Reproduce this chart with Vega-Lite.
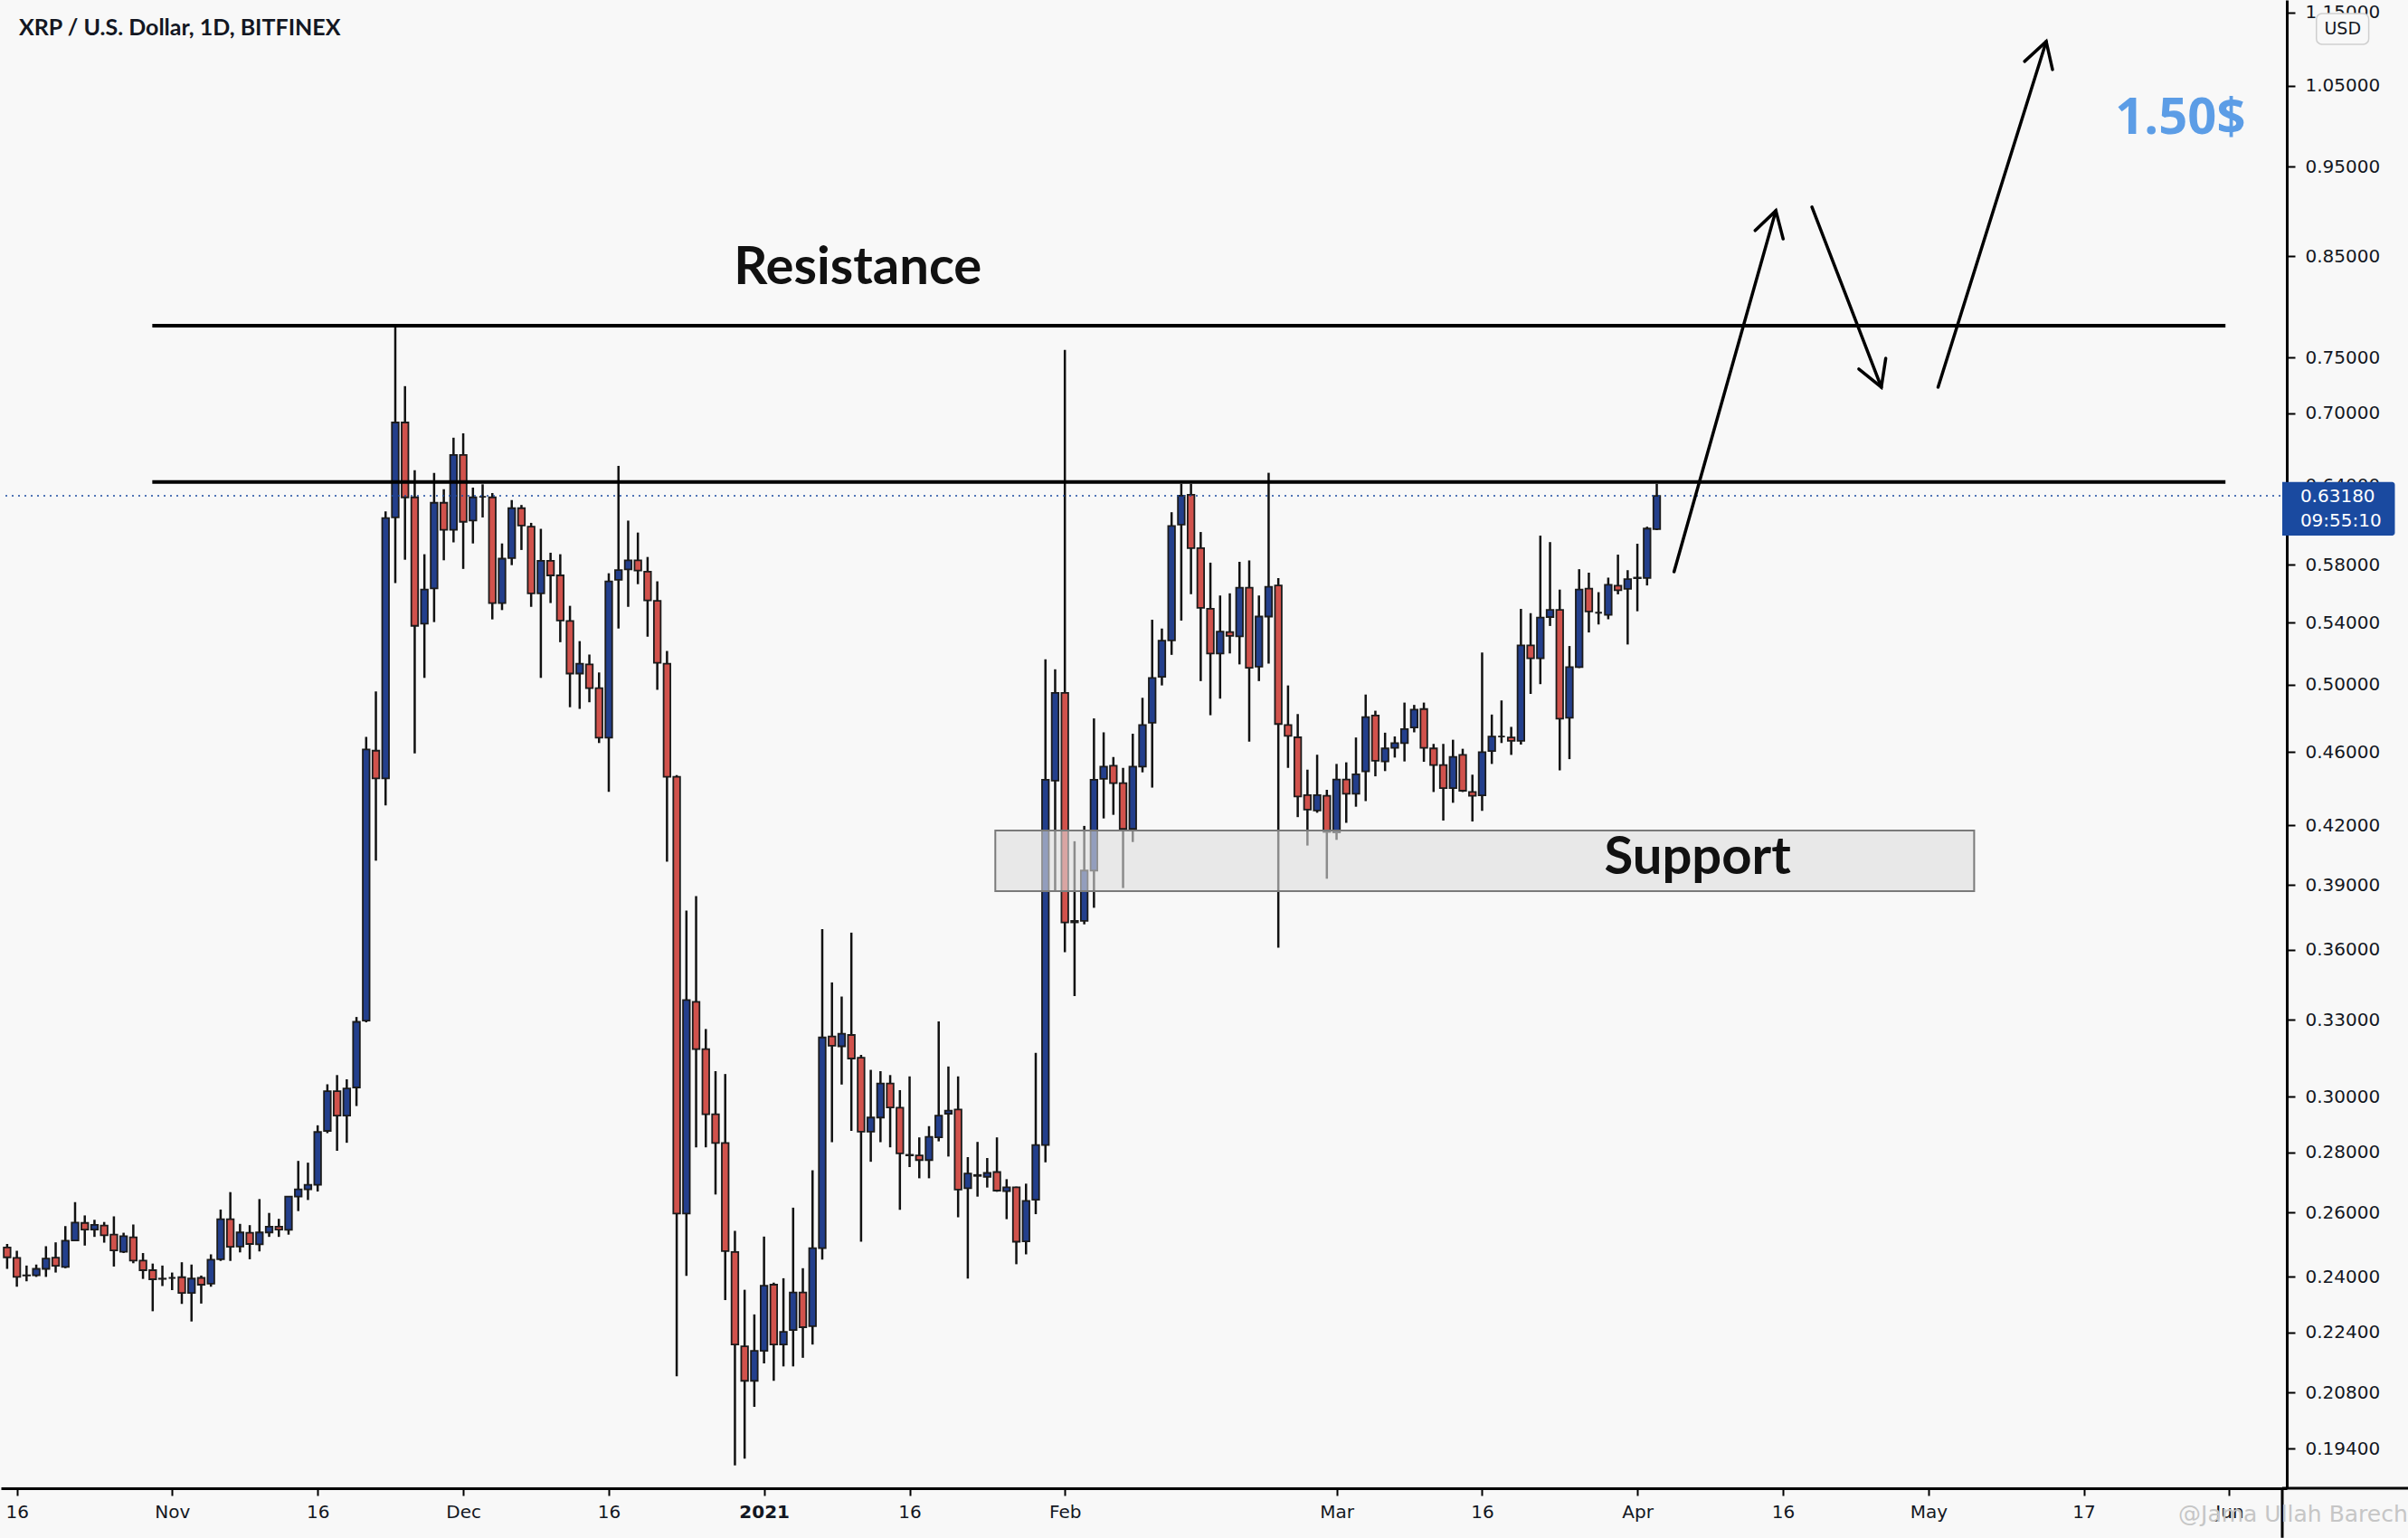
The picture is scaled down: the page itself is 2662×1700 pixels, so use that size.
{
  "$schema": "https://vega.github.io/schema/vega-lite/v6.json",
  "description": "XRP / U.S. Dollar daily candles with resistance, support and projected path",
  "width": 2527,
  "height": 1645,
  "padding": 0,
  "autosize": {"type": "pad"},
  "background": "#f8f8f8",
  "config": {"view": {"stroke": null}, "font": "DejaVu Sans"},
  "datasets": {
    "candles": [
      {"d": "2020-10-15", "o": 0.2489, "h": 0.2500, "l": 0.2424, "c": 0.2459},
      {"d": "2020-10-16", "o": 0.2457, "h": 0.2479, "l": 0.2371, "c": 0.2400},
      {"d": "2020-10-17", "o": 0.2404, "h": 0.2434, "l": 0.2387, "c": 0.2405},
      {"d": "2020-10-18", "o": 0.2405, "h": 0.2437, "l": 0.2400, "c": 0.2424},
      {"d": "2020-10-19", "o": 0.2424, "h": 0.2493, "l": 0.2400, "c": 0.2455},
      {"d": "2020-10-20", "o": 0.2458, "h": 0.2505, "l": 0.2413, "c": 0.2433},
      {"d": "2020-10-21", "o": 0.2430, "h": 0.2556, "l": 0.2426, "c": 0.2510},
      {"d": "2020-10-22", "o": 0.2511, "h": 0.2633, "l": 0.2509, "c": 0.2567},
      {"d": "2020-10-23", "o": 0.2566, "h": 0.2590, "l": 0.2495, "c": 0.2545},
      {"d": "2020-10-24", "o": 0.2545, "h": 0.2576, "l": 0.2522, "c": 0.2560},
      {"d": "2020-10-25", "o": 0.2558, "h": 0.2569, "l": 0.2504, "c": 0.2527},
      {"d": "2020-10-26", "o": 0.2529, "h": 0.2587, "l": 0.2431, "c": 0.2480},
      {"d": "2020-10-27", "o": 0.2476, "h": 0.2535, "l": 0.2472, "c": 0.2524},
      {"d": "2020-10-28", "o": 0.2521, "h": 0.2561, "l": 0.2441, "c": 0.2449},
      {"d": "2020-10-29", "o": 0.2449, "h": 0.2472, "l": 0.2394, "c": 0.2420},
      {"d": "2020-10-30", "o": 0.2420, "h": 0.2440, "l": 0.2300, "c": 0.2393},
      {"d": "2020-10-31", "o": 0.2395, "h": 0.2434, "l": 0.2373, "c": 0.2394},
      {"d": "2020-11-01", "o": 0.2397, "h": 0.2413, "l": 0.2361, "c": 0.2397},
      {"d": "2020-11-02", "o": 0.2399, "h": 0.2444, "l": 0.2321, "c": 0.2353},
      {"d": "2020-11-03", "o": 0.2353, "h": 0.2437, "l": 0.2271, "c": 0.2395},
      {"d": "2020-11-04", "o": 0.2397, "h": 0.2404, "l": 0.2322, "c": 0.2377},
      {"d": "2020-11-05", "o": 0.2380, "h": 0.2468, "l": 0.2371, "c": 0.2452},
      {"d": "2020-11-06", "o": 0.2453, "h": 0.2609, "l": 0.2448, "c": 0.2578},
      {"d": "2020-11-07", "o": 0.2578, "h": 0.2666, "l": 0.2448, "c": 0.2491},
      {"d": "2020-11-08", "o": 0.2492, "h": 0.2563, "l": 0.2474, "c": 0.2536},
      {"d": "2020-11-09", "o": 0.2535, "h": 0.2559, "l": 0.2453, "c": 0.2500},
      {"d": "2020-11-10", "o": 0.2499, "h": 0.2643, "l": 0.2477, "c": 0.2536},
      {"d": "2020-11-11", "o": 0.2536, "h": 0.2598, "l": 0.2522, "c": 0.2554},
      {"d": "2020-11-12", "o": 0.2554, "h": 0.2579, "l": 0.2522, "c": 0.2545},
      {"d": "2020-11-13", "o": 0.2544, "h": 0.2651, "l": 0.2529, "c": 0.2651},
      {"d": "2020-11-14", "o": 0.2651, "h": 0.2771, "l": 0.2604, "c": 0.2675},
      {"d": "2020-11-15", "o": 0.2675, "h": 0.2765, "l": 0.2640, "c": 0.2690},
      {"d": "2020-11-16", "o": 0.2690, "h": 0.2896, "l": 0.2668, "c": 0.2872},
      {"d": "2020-11-17", "o": 0.2876, "h": 0.3047, "l": 0.2868, "c": 0.3021},
      {"d": "2020-11-18", "o": 0.3021, "h": 0.3082, "l": 0.2806, "c": 0.2931},
      {"d": "2020-11-19", "o": 0.2931, "h": 0.3066, "l": 0.2834, "c": 0.3031},
      {"d": "2020-11-20", "o": 0.3035, "h": 0.3312, "l": 0.2966, "c": 0.3292},
      {"d": "2020-11-21", "o": 0.3297, "h": 0.4686, "l": 0.3290, "c": 0.4614},
      {"d": "2020-11-22", "o": 0.4607, "h": 0.4958, "l": 0.4020, "c": 0.4452},
      {"d": "2020-11-23", "o": 0.4452, "h": 0.6197, "l": 0.4305, "c": 0.6147},
      {"d": "2020-11-24", "o": 0.6151, "h": 0.7794, "l": 0.5671, "c": 0.6919},
      {"d": "2020-11-25", "o": 0.6919, "h": 0.7238, "l": 0.5837, "c": 0.6306},
      {"d": "2020-11-26", "o": 0.6306, "h": 0.6522, "l": 0.4592, "c": 0.5378},
      {"d": "2020-11-27", "o": 0.5392, "h": 0.5877, "l": 0.5042, "c": 0.5626},
      {"d": "2020-11-28", "o": 0.5633, "h": 0.6500, "l": 0.5403, "c": 0.6264},
      {"d": "2020-11-29", "o": 0.6264, "h": 0.6370, "l": 0.5833, "c": 0.6057},
      {"d": "2020-11-30", "o": 0.6057, "h": 0.6790, "l": 0.5964, "c": 0.6646},
      {"d": "2020-12-01", "o": 0.6646, "h": 0.6827, "l": 0.5771, "c": 0.6118},
      {"d": "2020-12-02", "o": 0.6127, "h": 0.6383, "l": 0.5956, "c": 0.6306},
      {"d": "2020-12-03", "o": 0.6311, "h": 0.6409, "l": 0.6151, "c": 0.6311},
      {"d": "2020-12-04", "o": 0.6306, "h": 0.6340, "l": 0.5421, "c": 0.5532},
      {"d": "2020-12-05", "o": 0.5532, "h": 0.5956, "l": 0.5484, "c": 0.5845},
      {"d": "2020-12-06", "o": 0.5849, "h": 0.6285, "l": 0.5798, "c": 0.6222},
      {"d": "2020-12-07", "o": 0.6222, "h": 0.6247, "l": 0.5908, "c": 0.6090},
      {"d": "2020-12-08", "o": 0.6081, "h": 0.6110, "l": 0.5506, "c": 0.5599},
      {"d": "2020-12-09", "o": 0.5599, "h": 0.6065, "l": 0.5042, "c": 0.5829},
      {"d": "2020-12-10", "o": 0.5829, "h": 0.5888, "l": 0.5532, "c": 0.5725},
      {"d": "2020-12-11", "o": 0.5725, "h": 0.5877, "l": 0.5270, "c": 0.5414},
      {"d": "2020-12-12", "o": 0.5410, "h": 0.5513, "l": 0.4862, "c": 0.5069},
      {"d": "2020-12-13", "o": 0.5069, "h": 0.5277, "l": 0.4852, "c": 0.5131},
      {"d": "2020-12-14", "o": 0.5127, "h": 0.5190, "l": 0.4892, "c": 0.4978},
      {"d": "2020-12-15", "o": 0.4978, "h": 0.5076, "l": 0.4651, "c": 0.4682},
      {"d": "2020-12-16", "o": 0.4682, "h": 0.5740, "l": 0.4378, "c": 0.5683},
      {"d": "2020-12-17", "o": 0.5694, "h": 0.6557, "l": 0.5360, "c": 0.5763},
      {"d": "2020-12-18", "o": 0.5767, "h": 0.6127, "l": 0.5506, "c": 0.5833},
      {"d": "2020-12-19", "o": 0.5833, "h": 0.6037, "l": 0.5663, "c": 0.5759},
      {"d": "2020-12-20", "o": 0.5752, "h": 0.5857, "l": 0.5306, "c": 0.5550},
      {"d": "2020-12-21", "o": 0.5547, "h": 0.5683, "l": 0.4968, "c": 0.5137},
      {"d": "2020-12-22", "o": 0.5131, "h": 0.5213, "l": 0.4015, "c": 0.4460},
      {"d": "2020-12-23", "o": 0.4460, "h": 0.4470, "l": 0.2122, "c": 0.2596},
      {"d": "2020-12-24", "o": 0.2596, "h": 0.3779, "l": 0.2403, "c": 0.3382},
      {"d": "2020-12-25", "o": 0.3375, "h": 0.3847, "l": 0.2818, "c": 0.3183},
      {"d": "2020-12-26", "o": 0.3183, "h": 0.3263, "l": 0.2818, "c": 0.2936},
      {"d": "2020-12-27", "o": 0.2936, "h": 0.3097, "l": 0.2658, "c": 0.2833},
      {"d": "2020-12-28", "o": 0.2833, "h": 0.3086, "l": 0.2332, "c": 0.2478},
      {"d": "2020-12-29", "o": 0.2475, "h": 0.2541, "l": 0.1900, "c": 0.2207},
      {"d": "2020-12-30", "o": 0.2202, "h": 0.2362, "l": 0.1916, "c": 0.2110},
      {"d": "2020-12-31", "o": 0.2110, "h": 0.2291, "l": 0.2043, "c": 0.2190},
      {"d": "2021-01-01", "o": 0.2190, "h": 0.2523, "l": 0.2156, "c": 0.2374},
      {"d": "2021-01-02", "o": 0.2377, "h": 0.2383, "l": 0.2110, "c": 0.2207},
      {"d": "2021-01-03", "o": 0.2207, "h": 0.2396, "l": 0.2148, "c": 0.2242},
      {"d": "2021-01-04", "o": 0.2247, "h": 0.2615, "l": 0.2148, "c": 0.2354},
      {"d": "2021-01-05", "o": 0.2354, "h": 0.2426, "l": 0.2171, "c": 0.2255},
      {"d": "2021-01-06", "o": 0.2258, "h": 0.2739, "l": 0.2207, "c": 0.2487},
      {"d": "2021-01-07", "o": 0.2487, "h": 0.3693, "l": 0.2452, "c": 0.3229},
      {"d": "2021-01-08", "o": 0.3233, "h": 0.3457, "l": 0.2836, "c": 0.3196},
      {"d": "2021-01-09", "o": 0.3194, "h": 0.3397, "l": 0.3046, "c": 0.3244},
      {"d": "2021-01-10", "o": 0.3239, "h": 0.3677, "l": 0.2876, "c": 0.3146},
      {"d": "2021-01-11", "o": 0.3149, "h": 0.3160, "l": 0.2507, "c": 0.2873},
      {"d": "2021-01-12", "o": 0.2873, "h": 0.3102, "l": 0.2768, "c": 0.2924},
      {"d": "2021-01-13", "o": 0.2924, "h": 0.3097, "l": 0.2836, "c": 0.3050},
      {"d": "2021-01-14", "o": 0.3050, "h": 0.3082, "l": 0.2818, "c": 0.2961},
      {"d": "2021-01-15", "o": 0.2960, "h": 0.3025, "l": 0.2608, "c": 0.2797},
      {"d": "2021-01-16", "o": 0.2792, "h": 0.3077, "l": 0.2750, "c": 0.2790},
      {"d": "2021-01-17", "o": 0.2790, "h": 0.2853, "l": 0.2712, "c": 0.2774},
      {"d": "2021-01-18", "o": 0.2774, "h": 0.2893, "l": 0.2712, "c": 0.2855},
      {"d": "2021-01-19", "o": 0.2853, "h": 0.3294, "l": 0.2839, "c": 0.2931},
      {"d": "2021-01-20", "o": 0.2938, "h": 0.3115, "l": 0.2786, "c": 0.2949},
      {"d": "2021-01-21", "o": 0.2953, "h": 0.3077, "l": 0.2584, "c": 0.2674},
      {"d": "2021-01-22", "o": 0.2679, "h": 0.2784, "l": 0.2395, "c": 0.2728},
      {"d": "2021-01-23", "o": 0.2723, "h": 0.2837, "l": 0.2651, "c": 0.2720},
      {"d": "2021-01-24", "o": 0.2717, "h": 0.2781, "l": 0.2681, "c": 0.2730},
      {"d": "2021-01-25", "o": 0.2733, "h": 0.2853, "l": 0.2667, "c": 0.2671},
      {"d": "2021-01-26", "o": 0.2669, "h": 0.2709, "l": 0.2578, "c": 0.2682},
      {"d": "2021-01-27", "o": 0.2682, "h": 0.2684, "l": 0.2438, "c": 0.2507},
      {"d": "2021-01-28", "o": 0.2508, "h": 0.2694, "l": 0.2468, "c": 0.2637},
      {"d": "2021-01-29", "o": 0.2641, "h": 0.3168, "l": 0.2594, "c": 0.2826},
      {"d": "2021-01-30", "o": 0.2826, "h": 0.5160, "l": 0.2766, "c": 0.4444},
      {"d": "2021-01-31", "o": 0.4439, "h": 0.5096, "l": 0.3869, "c": 0.4949},
      {"d": "2021-02-01", "o": 0.4949, "h": 0.7570, "l": 0.3589, "c": 0.3724},
      {"d": "2021-02-02", "o": 0.3724, "h": 0.4118, "l": 0.3399, "c": 0.3731},
      {"d": "2021-02-03", "o": 0.3731, "h": 0.4197, "l": 0.3715, "c": 0.3971},
      {"d": "2021-02-04", "o": 0.3971, "h": 0.4795, "l": 0.3792, "c": 0.4444},
      {"d": "2021-02-05", "o": 0.4449, "h": 0.4713, "l": 0.4236, "c": 0.4517},
      {"d": "2021-02-06", "o": 0.4522, "h": 0.4571, "l": 0.4255, "c": 0.4425},
      {"d": "2021-02-07", "o": 0.4425, "h": 0.4510, "l": 0.3886, "c": 0.4182},
      {"d": "2021-02-08", "o": 0.4182, "h": 0.4705, "l": 0.4114, "c": 0.4517},
      {"d": "2021-02-09", "o": 0.4517, "h": 0.4919, "l": 0.4485, "c": 0.4756},
      {"d": "2021-02-10", "o": 0.4769, "h": 0.5419, "l": 0.4401, "c": 0.5041},
      {"d": "2021-02-11", "o": 0.5049, "h": 0.5360, "l": 0.4995, "c": 0.5280},
      {"d": "2021-02-12", "o": 0.5282, "h": 0.6191, "l": 0.5188, "c": 0.6087},
      {"d": "2021-02-13", "o": 0.6097, "h": 0.6413, "l": 0.5413, "c": 0.6320},
      {"d": "2021-02-14", "o": 0.6327, "h": 0.6413, "l": 0.5593, "c": 0.5921},
      {"d": "2021-02-15", "o": 0.5921, "h": 0.6041, "l": 0.5022, "c": 0.5499},
      {"d": "2021-02-16", "o": 0.5493, "h": 0.5816, "l": 0.4814, "c": 0.5197},
      {"d": "2021-02-17", "o": 0.5197, "h": 0.5584, "l": 0.4914, "c": 0.5340},
      {"d": "2021-02-18", "o": 0.5337, "h": 0.5599, "l": 0.5197, "c": 0.5311},
      {"d": "2021-02-19", "o": 0.5308, "h": 0.5822, "l": 0.5127, "c": 0.5638},
      {"d": "2021-02-20", "o": 0.5638, "h": 0.5832, "l": 0.4659, "c": 0.5105},
      {"d": "2021-02-21", "o": 0.5113, "h": 0.5584, "l": 0.5022, "c": 0.5440},
      {"d": "2021-02-22", "o": 0.5440, "h": 0.6501, "l": 0.5132, "c": 0.5644},
      {"d": "2021-02-23", "o": 0.5654, "h": 0.5706, "l": 0.3609, "c": 0.4762},
      {"d": "2021-02-24", "o": 0.4756, "h": 0.4995, "l": 0.4510, "c": 0.4692},
      {"d": "2021-02-25", "o": 0.4684, "h": 0.4821, "l": 0.4243, "c": 0.4353},
      {"d": "2021-02-26", "o": 0.4360, "h": 0.4500, "l": 0.4096, "c": 0.4283},
      {"d": "2021-02-27", "o": 0.4278, "h": 0.4584, "l": 0.4266, "c": 0.4360},
      {"d": "2021-02-28", "o": 0.4357, "h": 0.4389, "l": 0.3931, "c": 0.4166},
      {"d": "2021-03-01", "o": 0.4163, "h": 0.4532, "l": 0.4125, "c": 0.4445},
      {"d": "2021-03-02", "o": 0.4445, "h": 0.4541, "l": 0.4213, "c": 0.4368},
      {"d": "2021-03-03", "o": 0.4368, "h": 0.4683, "l": 0.4298, "c": 0.4474},
      {"d": "2021-03-04", "o": 0.4490, "h": 0.4939, "l": 0.4328, "c": 0.4803},
      {"d": "2021-03-05", "o": 0.4812, "h": 0.4841, "l": 0.4463, "c": 0.4550},
      {"d": "2021-03-06", "o": 0.4546, "h": 0.4711, "l": 0.4492, "c": 0.4620},
      {"d": "2021-03-07", "o": 0.4623, "h": 0.4689, "l": 0.4568, "c": 0.4651},
      {"d": "2021-03-08", "o": 0.4651, "h": 0.4890, "l": 0.4546, "c": 0.4732},
      {"d": "2021-03-09", "o": 0.4741, "h": 0.4876, "l": 0.4713, "c": 0.4847},
      {"d": "2021-03-10", "o": 0.4851, "h": 0.4890, "l": 0.4544, "c": 0.4623},
      {"d": "2021-03-11", "o": 0.4620, "h": 0.4646, "l": 0.4377, "c": 0.4526},
      {"d": "2021-03-12", "o": 0.4526, "h": 0.4646, "l": 0.4225, "c": 0.4398},
      {"d": "2021-03-13", "o": 0.4398, "h": 0.4670, "l": 0.4319, "c": 0.4572},
      {"d": "2021-03-14", "o": 0.4583, "h": 0.4618, "l": 0.4377, "c": 0.4384},
      {"d": "2021-03-15", "o": 0.4377, "h": 0.4472, "l": 0.4220, "c": 0.4357},
      {"d": "2021-03-16", "o": 0.4359, "h": 0.5203, "l": 0.4276, "c": 0.4599},
      {"d": "2021-03-17", "o": 0.4605, "h": 0.4818, "l": 0.4532, "c": 0.4689},
      {"d": "2021-03-18", "o": 0.4689, "h": 0.4903, "l": 0.4651, "c": 0.4689},
      {"d": "2021-03-19", "o": 0.4683, "h": 0.4745, "l": 0.4583, "c": 0.4664},
      {"d": "2021-03-20", "o": 0.4664, "h": 0.5492, "l": 0.4642, "c": 0.5249},
      {"d": "2021-03-21", "o": 0.5249, "h": 0.5463, "l": 0.4943, "c": 0.5166},
      {"d": "2021-03-22", "o": 0.5166, "h": 0.6014, "l": 0.5003, "c": 0.5433},
      {"d": "2021-03-23", "o": 0.5437, "h": 0.5966, "l": 0.5377, "c": 0.5485},
      {"d": "2021-03-24", "o": 0.5485, "h": 0.5625, "l": 0.4496, "c": 0.4793},
      {"d": "2021-03-25", "o": 0.4799, "h": 0.5245, "l": 0.4559, "c": 0.5110},
      {"d": "2021-03-26", "o": 0.5110, "h": 0.5769, "l": 0.5104, "c": 0.5625},
      {"d": "2021-03-27", "o": 0.5632, "h": 0.5744, "l": 0.5334, "c": 0.5474},
      {"d": "2021-03-28", "o": 0.5466, "h": 0.5607, "l": 0.5387, "c": 0.5466},
      {"d": "2021-03-29", "o": 0.5452, "h": 0.5709, "l": 0.5422, "c": 0.5659},
      {"d": "2021-03-30", "o": 0.5652, "h": 0.5874, "l": 0.5592, "c": 0.5621},
      {"d": "2021-03-31", "o": 0.5630, "h": 0.5762, "l": 0.5255, "c": 0.5698},
      {"d": "2021-04-01", "o": 0.5705, "h": 0.5954, "l": 0.5476, "c": 0.5709},
      {"d": "2021-04-02", "o": 0.5706, "h": 0.6081, "l": 0.5654, "c": 0.6067},
      {"d": "2021-04-03", "o": 0.6062, "h": 0.6412, "l": 0.6055, "c": 0.6318}
    ],
    "levels": [
      {"d1": "2020-10-29T23:00:00Z", "d2": "2021-05-31T14:30:00Z", "p": 0.780},
      {"d1": "2020-10-29T23:00:00Z", "d2": "2021-05-31T14:30:00Z", "p": 0.6427}
    ],
    "zone": [
      {"d1": "2021-01-24T20:00:00Z", "d2": "2021-05-05T17:00:00Z", "top": 0.4173, "bottom": 0.3871}
    ],
    "frame": [
      {"d1": "2021-06-06T11:00:00Z", "d2": "2021-06-19T12:00:00Z", "p1": 0.1847, "p2": 0.1847},
      {"d1": "2021-06-06T11:00:00Z", "d2": "2021-06-06T11:00:00Z", "p1": 0.1847, "p2": 0.1737}
    ],
    "arrows": [
      {"seg": "a1", "i": 0, "d": "2021-04-04T18:45:00Z", "p": 0.5751},
      {"seg": "a1", "i": 1, "d": "2021-04-15T06:30:00Z", "p": 0.8996},
      {"seg": "a1h", "i": 0, "d": "2021-04-13T03:20:00Z", "p": 0.8777},
      {"seg": "a1h", "i": 1, "d": "2021-04-15T06:30:00Z", "p": 0.8996},
      {"seg": "a1h", "i": 2, "d": "2021-04-16T00:30:00Z", "p": 0.8688},
      {"seg": "a2", "i": 0, "d": "2021-04-18T23:50:00Z", "p": 0.9036},
      {"seg": "a2", "i": 1, "d": "2021-04-26T03:20:00Z", "p": 0.7229},
      {"seg": "a2h", "i": 0, "d": "2021-04-26T14:20:00Z", "p": 0.7493},
      {"seg": "a2h", "i": 1, "d": "2021-04-26T03:20:00Z", "p": 0.7229},
      {"seg": "a2h", "i": 2, "d": "2021-04-23T19:40:00Z", "p": 0.7393},
      {"seg": "a3", "i": 0, "d": "2021-05-01T23:45:00Z", "p": 0.7229},
      {"seg": "a3", "i": 1, "d": "2021-05-13T03:10:00Z", "p": 1.1094},
      {"seg": "a3h", "i": 0, "d": "2021-05-10T21:40:00Z", "p": 1.0824},
      {"seg": "a3h", "i": 1, "d": "2021-05-13T03:10:00Z", "p": 1.1094},
      {"seg": "a3h", "i": 2, "d": "2021-05-13T18:45:00Z", "p": 1.0715}
    ]
  },
  "layer": [
    {
      "data": {"name": "candles"},
      "mark": {"type": "rule", "color": "#111111", "strokeWidth": 2.5, "clip": true},
      "encoding": {
        "x": {
          "field": "d",
          "type": "temporal",
          "title": null,
          "scale": {
            "type": "utc",
            "nice": false,
            "domain": [
              {"year": 2020, "month": 10, "date": 14, "hours": 19, "minutes": 45, "utc": true},
              {"year": 2021, "month": 6, "date": 6, "hours": 11, "utc": true}
            ]
          },
          "axis": {
            "orient": "bottom",
            "title": null,
            "grid": false,
            "values": [
              {"year": 2020, "month": 10, "date": 16, "utc": true},
              {"year": 2020, "month": 11, "date": 1, "utc": true},
              {"year": 2020, "month": 11, "date": 16, "utc": true},
              {"year": 2020, "month": 12, "date": 1, "utc": true},
              {"year": 2020, "month": 12, "date": 16, "utc": true},
              {"year": 2021, "month": 1, "date": 1, "utc": true},
              {"year": 2021, "month": 1, "date": 16, "utc": true},
              {"year": 2021, "month": 2, "date": 1, "utc": true},
              {"year": 2021, "month": 3, "date": 1, "utc": true},
              {"year": 2021, "month": 3, "date": 16, "utc": true},
              {"year": 2021, "month": 4, "date": 1, "utc": true},
              {"year": 2021, "month": 4, "date": 16, "utc": true},
              {"year": 2021, "month": 5, "date": 1, "utc": true},
              {"year": 2021, "month": 5, "date": 17, "utc": true},
              {"year": 2021, "month": 6, "date": 1, "utc": true}
            ],
            "labelExpr": "utcdate(datum.value) == 1 ? (utcmonth(datum.value) == 0 ? utcFormat(datum.value, '%Y') : utcFormat(datum.value, '%b')) : '' + utcdate(datum.value)",
            "labelFontWeight": {"condition": {"test": "utcmonth(datum.value) == 0 && utcdate(datum.value) == 1", "value": "bold"}, "value": "normal"},
            "labelFont": "DejaVu Sans",
            "labelFontSize": 20,
            "labelColor": "#131722",
            "labelPadding": 8,
            "labelOverlap": false,
            "labelFlush": false,
            "tickSize": 8,
            "tickWidth": 2,
            "tickColor": "#000000",
            "domainColor": "#000000",
            "domainWidth": 3
          }
        },
        "y": {
          "field": "l",
          "type": "quantitative",
          "title": null,
          "scale": {"type": "log", "domain": [0.1847, 1.168], "nice": false, "zero": false},
          "axis": {
            "orient": "right",
            "title": null,
            "grid": false,
            "values": [0.194, 0.208, 0.224, 0.24, 0.26, 0.28, 0.3, 0.33, 0.36, 0.39, 0.42, 0.46, 0.5, 0.54, 0.58, 0.64, 0.7, 0.75, 0.85, 0.95, 1.05, 1.15],
            "format": ".5f",
            "labelFont": "DejaVu Sans",
            "labelFontSize": 20,
            "labelColor": "#131722",
            "labelPadding": 11,
            "labelOverlap": false,
            "labelFlush": false,
            "tickSize": 9,
            "tickWidth": 2,
            "tickColor": "#000000",
            "domainColor": "#000000",
            "domainWidth": 3
          }
        },
        "y2": {"field": "h"}
      }
    },
    {
      "data": {"name": "candles"},
      "mark": {"type": "bar", "size": 7.5, "stroke": "#1b1b1b", "strokeWidth": 1.8, "clip": true},
      "encoding": {
        "x": {"field": "d", "type": "temporal", "title": null},
        "y": {"field": "o", "type": "quantitative", "title": null},
        "y2": {"field": "c"},
        "fill": {"condition": {"test": "datum.c >= datum.o", "value": "#233f8c"}, "value": "#d1524c"}
      }
    },
    {
      "data": {"values": [{"p": 0.6318}]},
      "mark": {"type": "rule", "color": "#1a4aa0", "strokeWidth": 1.5, "strokeDash": [2, 5]},
      "encoding": {
        "y": {"field": "p", "type": "quantitative", "title": null}
      }
    },
    {
      "data": {"name": "frame"},
      "mark": {"type": "rule", "color": "#000000", "strokeWidth": 3},
      "encoding": {
        "x": {"field": "d1", "type": "temporal", "title": null},
        "x2": {"field": "d2"},
        "y": {"field": "p1", "type": "quantitative", "title": null},
        "y2": {"field": "p2"}
      }
    },
    {
      "data": {"name": "zone"},
      "mark": {"type": "rect", "fill": "#dedede", "fillOpacity": 0.6, "stroke": "#7a7a7a", "strokeWidth": 2},
      "encoding": {
        "x": {"field": "d1", "type": "temporal", "title": null},
        "x2": {"field": "d2"},
        "y": {"field": "top", "type": "quantitative", "title": null},
        "y2": {"field": "bottom"}
      }
    },
    {
      "data": {"name": "levels"},
      "mark": {"type": "rule", "color": "#000000", "strokeWidth": 4},
      "encoding": {
        "x": {"field": "d1", "type": "temporal", "title": null},
        "x2": {"field": "d2"},
        "y": {"field": "p", "type": "quantitative", "title": null}
      }
    },
    {
      "data": {"name": "arrows"},
      "mark": {"type": "line", "color": "#000000", "strokeWidth": 3.5, "strokeCap": "round"},
      "encoding": {
        "x": {"field": "d", "type": "temporal", "title": null},
        "y": {"field": "p", "type": "quantitative", "title": null},
        "detail": {"field": "seg"},
        "order": {"field": "i"}
      }
    },
    {
      "data": {"values": [
        {"d": "2021-01-10T15:50:00Z", "p": 0.8373, "t": "Resistance"},
        {"d": "2021-04-07T04:50:00Z", "p": 0.4031, "t": "Support"}
      ]},
      "mark": {"type": "text", "font": "Lato", "fontWeight": "bold", "fontSize": 58, "color": "#111111", "align": "center", "baseline": "middle"},
      "encoding": {
        "x": {"field": "d", "type": "temporal", "title": null},
        "y": {"field": "p", "type": "quantitative", "title": null},
        "text": {"field": "t"}
      }
    },
    {
      "data": {"values": [{"d": "2020-10-16T05:15:00Z", "p": 1.1282, "t": "XRP / U.S. Dollar, 1D, BITFINEX"}]},
      "mark": {"type": "text", "font": "Lato", "fontWeight": "bold", "fontSize": 25, "color": "#131722", "align": "left", "baseline": "middle"},
      "encoding": {
        "x": {"field": "d", "type": "temporal", "title": null},
        "y": {"field": "p", "type": "quantitative", "title": null},
        "text": {"field": "t"}
      }
    },
    {
      "data": {"values": [{"d": "2021-05-26T23:00:00Z", "p": 1.0086, "t": "1.50$"}]},
      "mark": {"type": "text", "font": "Open Sans", "fontWeight": "bold", "fontSize": 56, "color": "#5c9de6", "align": "center", "baseline": "middle"},
      "encoding": {
        "x": {"field": "d", "type": "temporal", "title": null},
        "y": {"field": "p", "type": "quantitative", "title": null},
        "text": {"field": "t"}
      }
    },
    {
      "data": {"values": [{"d1": "2021-06-06T11:00:00Z", "d2": "2021-06-18T01:30:00Z", "top": 0.6427, "bottom": 0.6015}]},
      "mark": {"type": "rect", "fill": "#1a4aa0", "cornerRadiusTopRight": 3, "cornerRadiusBottomRight": 3},
      "encoding": {
        "x": {"field": "d1", "type": "temporal", "title": null},
        "x2": {"field": "d2"},
        "y": {"field": "top", "type": "quantitative", "title": null},
        "y2": {"field": "bottom"}
      }
    },
    {
      "data": {"values": [
        {"d": "2021-06-08T07:30:00Z", "p": 0.6312, "t": "0.63180"},
        {"d": "2021-06-08T07:30:00Z", "p": 0.6124, "t": "09:55:10"}
      ]},
      "mark": {"type": "text", "font": "DejaVu Sans", "fontSize": 20, "color": "#ffffff", "align": "left", "baseline": "middle"},
      "encoding": {
        "x": {"field": "d", "type": "temporal", "title": null},
        "y": {"field": "p", "type": "quantitative", "title": null},
        "text": {"field": "t"}
      }
    },
    {
      "data": {"values": [{"d1": "2021-06-09T23:30:00Z", "d2": "2021-06-15T08:50:00Z", "top": 1.1486, "bottom": 1.1057}]},
      "mark": {"type": "rect", "fill": "#f8f8f8", "stroke": "#cfcfcf", "strokeWidth": 1.5, "cornerRadius": 6},
      "encoding": {
        "x": {"field": "d1", "type": "temporal", "title": null},
        "x2": {"field": "d2"},
        "y": {"field": "top", "type": "quantitative", "title": null},
        "y2": {"field": "bottom"}
      }
    },
    {
      "data": {"values": [{"d": "2021-06-12T16:20:00Z", "p": 1.127, "t": "USD"}]},
      "mark": {"type": "text", "font": "DejaVu Sans", "fontSize": 19, "color": "#131722", "align": "center", "baseline": "middle"},
      "encoding": {
        "x": {"field": "d", "type": "temporal", "title": null},
        "y": {"field": "p", "type": "quantitative", "title": null},
        "text": {"field": "t"}
      }
    },
    {
      "data": {"values": [{"d": "2021-06-07T13:40:00Z", "p": 0.1788, "t": "@Jama Ullah Barech"}]},
      "mark": {"type": "text", "font": "DejaVu Sans", "fontSize": 25, "color": "#c6c6c6", "align": "center", "baseline": "middle"},
      "encoding": {
        "x": {"field": "d", "type": "temporal", "title": null},
        "y": {"field": "p", "type": "quantitative", "title": null},
        "text": {"field": "t"}
      }
    }
  ]
}
